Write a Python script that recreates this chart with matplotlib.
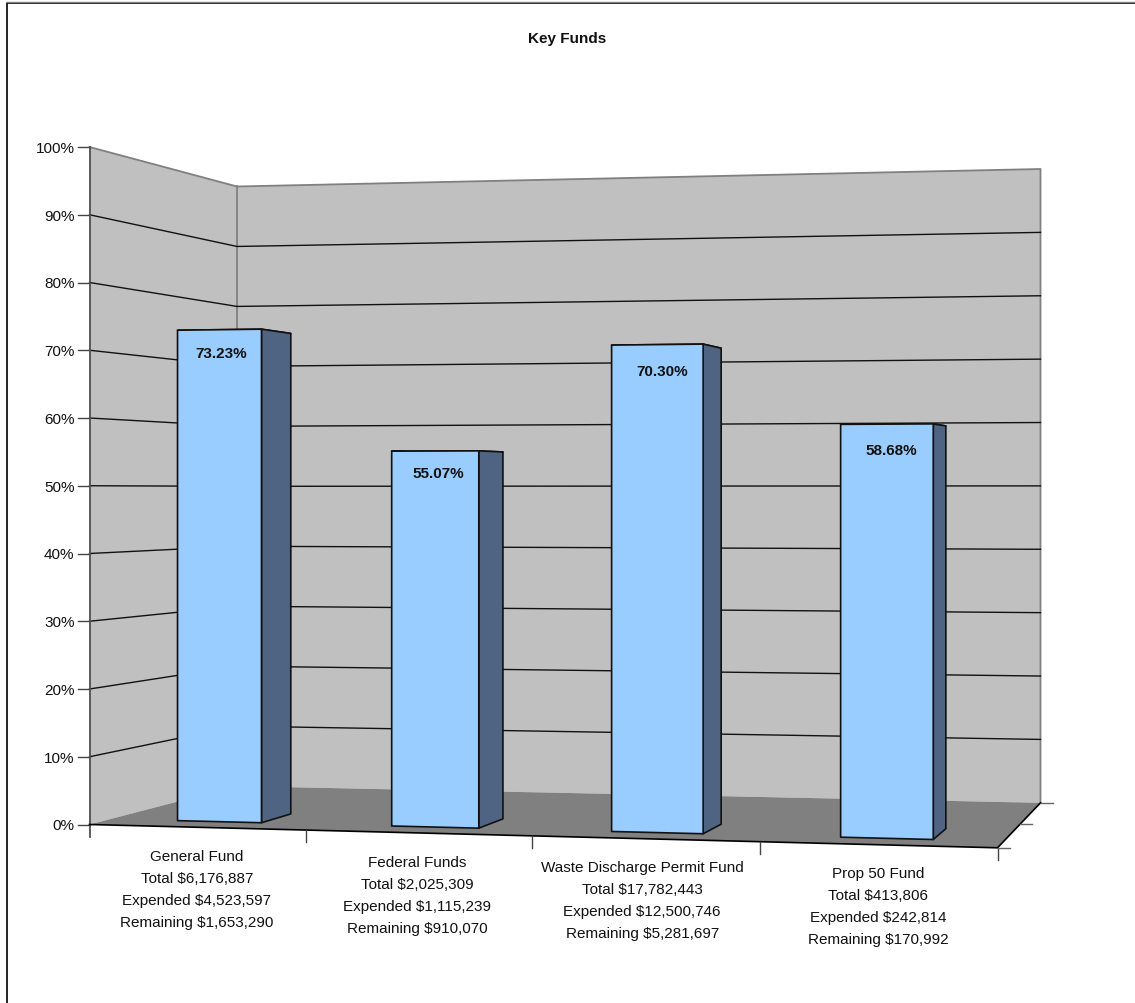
"""
Key Funds - 3D perspective column chart, drawn by hand on a pixel-sized axes.
"""

import numpy as np
import matplotlib
matplotlib.use('Agg')
import matplotlib.pyplot as plt
from matplotlib.patches import Polygon

plt.rcParams['font.family'] = ['Liberation Sans', 'DejaVu Sans']

# data
funds = ["General Fund", "Federal Funds", "Waste Discharge Permit Fund", "Prop 50 Fund"]
totals = ["$6,176,887", "$2,025,309", "$17,782,443", "$413,806"]
expended = ["$4,523,597", "$1,115,239", "$12,500,746", "$242,814"]
remaining = ["$1,653,290", "$910,070", "$5,281,697", "$170,992"]
percent = [73.23, 55.07, 70.30, 58.68]
y_ticks = [0, 10, 20, 30, 40, 50, 60, 70, 80, 90, 100]

# layout, in pixels of the output image
W, H = 1135, 1004
FLOOR = [(89, 825), (997, 848.3), (1040, 803.3), (236.5, 786.6)]  # front l/r, back r/l
WALL_H = [((89, 825), 677.5), ((236.5, 786.6), 599.6), ((1040, 803.3), 633.8)]
BAR_LEFT = [0.328, 1.346, 2.341, 3.327]
BAR_WIDTH = [0.405, 0.400, 0.400, 0.385]
BAR_FRONT = 0.129
BAR_BACK = [0.338, 0.340, 0.338, 0.355]
CAT_TICKS = [0, 1.03, 2.05, 3.03, 4]
LABEL_POS = [(196.5, 857), (416.7, 863), (641.7, 868), (877.7, 874)]
LINE_STEP = 21.8
VALUE_OFFSET = [(2, 23), (3, 21.5), (4.5, 26), (4, 25.5)]
FS = 11.0

C_WALL = "#C0C0C0"
C_FLOOR = "#808080"
C_EDGE = "#808080"
C_FRONT = "#99CCFF"
C_SIDE = "#4F6483"


def floor_matrix(pts):
    """Homography from the unit floor square to screen."""
    src = [(0, 0), (1, 0), (1, 1), (0, 1)]
    A, b = [], []
    for (u, v), (x, y) in zip(src, pts):
        A.append([u, v, 1, 0, 0, 0, -u * x, -v * x])
        A.append([0, 0, 0, u, v, 1, -u * y, -v * y])
        b += [x, y]
    return np.append(np.linalg.solve(np.array(A), np.array(b)), 1).reshape(3, 3)


M = floor_matrix(FLOOR)
# full wall height is affine in screen x, y since the verticals stay vertical
h_coef = np.linalg.solve(
    np.array([[p[0], p[1], 1] for p, _ in WALL_H]),
    np.array([h for _, h in WALL_H]),
)


def project(cat, depth, pct):
    """cat in 0..4, depth in 0..1, pct in 0..100 -> screen x, y."""
    x, y, w = M @ np.array([cat / 4, depth, 1])
    x, y = x / w, y / w
    return x, y - (h_coef @ np.array([x, y, 1])) * pct / 100


fig = plt.figure(figsize=(W / 100, H / 100), dpi=100)
ax = fig.add_axes([0, 0, 1, 1])
# a coordinate p sits on the centre of pixel p
ax.set_xlim(-0.5, W - 0.5)
ax.set_ylim(H - 0.5, -0.5)
ax.axis('off')

# outer frame (only top and left fall inside the image)
ax.plot([6.5, 6.5, W], [H, 3, 3], color="black", lw=1.2, zorder=1)
ax.plot([6.5, W], [2, 2], color="#808080", lw=1, zorder=1)

# walls and floor
p_fl0, p_bl0, p_br0 = project(0, 0, 0), project(0, 1, 0), project(4, 1, 0)
p_fl1, p_bl1, p_br1 = project(0, 0, 100), project(0, 1, 100), project(4, 1, 100)
ax.add_patch(Polygon([p_fl0, p_bl0, p_bl1, p_fl1], fc=C_WALL, ec="none", zorder=2))
ax.add_patch(Polygon([p_bl0, p_br0, p_br1, p_bl1], fc=C_WALL, ec="none", zorder=2))
ax.add_patch(Polygon(FLOOR, fc=C_FLOOR, ec="none", zorder=3))

# wall outlines
ax.plot([p_fl1[0], p_bl1[0], p_br1[0], p_br0[0]], [p_fl1[1], p_bl1[1], p_br1[1], p_br0[1]],
        color=C_EDGE, lw=1.3, zorder=3)
ax.plot([p_bl0[0], p_bl1[0]], [p_bl0[1], p_bl1[1]], color=C_EDGE, lw=1.3, zorder=3)

# gridlines and y ticks
for t in y_ticks:
    a, b, c = project(0, 0, t), project(0, 1, t), project(4, 1, t)
    if 0 < t < 100:
        ax.plot([a[0], b[0], c[0]], [a[1], b[1], c[1]], color="#111111", lw=1, zorder=4)
    ax.plot([a[0] - 12, a[0]], [a[1], a[1]], color="#444444", lw=1, zorder=4)
    ax.text(a[0] - 15, a[1] - 0.5, f"{t}%", ha="right", va="center_baseline", fontsize=FS, color="#111111")

# axis edges
ax.plot([p_fl0[0], p_fl1[0]], [p_fl0[1] + 12, p_fl1[1]], color="#505050", lw=1.3, zorder=5)
front_r = project(4, 0, 0)
ax.plot([p_fl0[0], front_r[0], p_br0[0]], [p_fl0[1], front_r[1], p_br0[1]], color="black", lw=1.2, zorder=5)

# x ticks
for c in CAT_TICKS[1:]:
    x, y = project(c, 0, 0)
    ax.plot([x, x], [y, y + 12], color="#444444", lw=1, zorder=5)

# depth ticks on the right floor edge
for d in (0, 0.5, 1):
    x, y = project(4, d, 0)
    ax.plot([x, x + 12], [y, y], color="#666666", lw=1, zorder=5)

# bars, left to right
for left, width, z1, pct, off in zip(BAR_LEFT, BAR_WIDTH, BAR_BACK, percent, VALUE_OFFSET):
    right = left + width
    z0 = BAR_FRONT
    front = [project(left, z0, 0), project(right, z0, 0), project(right, z0, pct), project(left, z0, pct)]
    side = [project(right, z0, 0), project(right, z1, 0), project(right, z1, pct), project(right, z0, pct)]
    top = [project(left, z0, pct), project(right, z0, pct), project(right, z1, pct), project(left, z1, pct)]
    ax.add_patch(Polygon(top, fc=C_FRONT, ec="#111111", lw=1.2, joinstyle="round", zorder=6))
    ax.add_patch(Polygon(side, fc=C_SIDE, ec="#111111", lw=1.2, joinstyle="round", zorder=7))
    ax.add_patch(Polygon(front, fc=C_FRONT, ec="#111111", lw=1.2, joinstyle="round", zorder=8))
    cx = (front[2][0] + front[3][0]) / 2 + off[0]
    cy = (front[2][1] + front[3][1]) / 2 + off[1]
    ax.text(cx, cy, f"{pct:.2f}%", ha="center", va="center", fontsize=FS, fontweight="bold",
            color="#111111", zorder=9)

# category labels
for i, name in enumerate(funds):
    lines = [name, f"Total {totals[i]}", f"Expended {expended[i]}", f"Remaining {remaining[i]}"]
    x, y = LABEL_POS[i]
    for j, line in enumerate(lines):
        ax.text(x, y + j * LINE_STEP, line, ha="center", va="center", fontsize=FS, color="#111111")

ax.text(567, 38, "Key Funds", ha="center", va="center", fontsize=FS, fontweight="bold", color="#111111")

fig.savefig("out.png", dpi=100)
